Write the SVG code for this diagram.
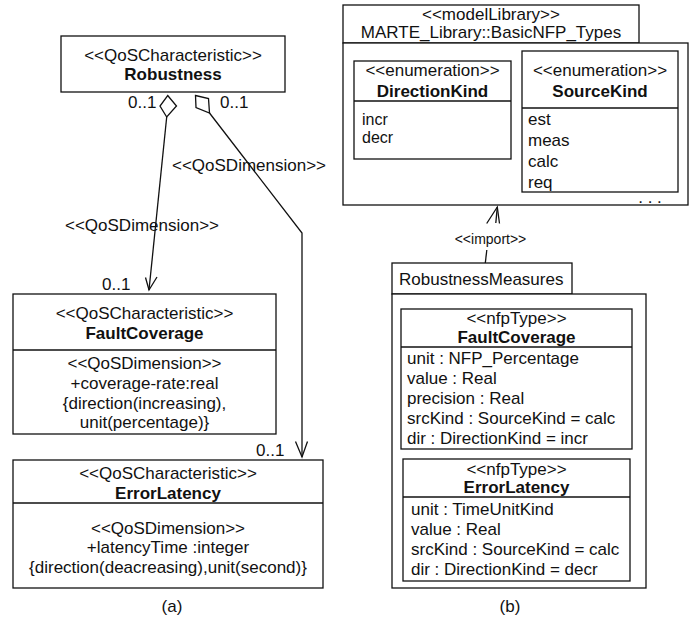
<svg xmlns="http://www.w3.org/2000/svg" width="697" height="623" viewBox="0 0 697 623">
<style>
  text { font-family: "Liberation Sans", Arial, Helvetica, sans-serif; font-size: 17px; fill: #111; }
  .c { text-anchor: middle; }
  .b { font-weight: bold; }
  .s { font-size: 14px; }
  .t { font-size: 16px; }
  .box { fill: #fff; stroke: #111; stroke-width: 1.3; }
  .ln { fill: none; stroke: #111; stroke-width: 1.3; }
  .dia { fill: #fff; stroke: #111; stroke-width: 1.3; stroke-linejoin: miter; }
</style>
<rect width="697" height="623" fill="#fff"/>

<g id="connectors">
  <!-- Robustness -> FaultCoverage -->
  <polygon class="dia" points="167.7,95.5 176.5,106 166.7,117 160,106"/>
  <line class="ln" x1="166.7" y1="117" x2="149" y2="290"/>
  <polyline class="ln" points="145.5,277.5 149,290 157,277"/>
  <!-- Robustness -> ErrorLatency -->
  <polygon class="dia" points="195.5,95.5 208.5,98.5 209.5,113 196,107.5"/>
  <polyline class="ln" points="209.5,113 302,233 302,457"/>
  <polyline class="ln" points="295.5,441.5 302,457 307.5,441.5"/>
  <!-- import -->
  <line class="ln" x1="485.3" y1="263" x2="486.8" y2="250"/>
  <line class="ln" x1="495.8" y1="223" x2="497.3" y2="207"/>
  <polyline class="ln" points="486.7,223.5 497.3,207 499.5,223.5"/>
  <text class="s c" x="490.5" y="244">&lt;&lt;import&gt;&gt;</text>
  <!-- labels -->
  <text x="128" y="108">0..1</text>
  <text x="220" y="108">0..1</text>
  <text x="102" y="290">0..1</text>
  <text x="256" y="456">0..1</text>
  <text x="172" y="171">&lt;&lt;QoSDimension&gt;&gt;</text>
  <text x="65" y="231">&lt;&lt;QoSDimension&gt;&gt;</text>
</g>

<g id="robustness">
  <rect class="box" x="61" y="36" width="224" height="56"/>
  <text class="c" x="173" y="61">&lt;&lt;QoSCharacteristic&gt;&gt;</text>
  <text class="c b" x="173" y="80">Robustness</text>
</g>

<g id="faultCoverage">
  <rect class="box" x="13" y="294" width="263" height="140"/>
  <line class="ln" x1="13" y1="350" x2="276" y2="350"/>
  <text class="c" x="144.5" y="319">&lt;&lt;QoSCharacteristic&gt;&gt;</text>
  <text class="c b" x="144.5" y="339">FaultCoverage</text>
  <text class="c" x="144.5" y="369">&lt;&lt;QoSDimension&gt;&gt;</text>
  <text class="c" x="144.5" y="389">+coverage-rate:real</text>
  <text class="c" x="144.5" y="409">{direction(increasing),</text>
  <text class="c" x="144.5" y="428">unit(percentage)}</text>
</g>

<g id="errorLatency">
  <rect class="box" x="13" y="460" width="310" height="128"/>
  <line class="ln" x1="13" y1="503" x2="323" y2="503"/>
  <text class="c" x="168" y="479">&lt;&lt;QoSCharacteristic&gt;&gt;</text>
  <text class="c b" x="168" y="499">ErrorLatency</text>
  <text class="c" x="168" y="534">&lt;&lt;QoSDimension&gt;&gt;</text>
  <text class="c" x="168" y="553">+latencyTime :integer</text>
  <text class="c" x="168" y="573">{direction(deacreasing),unit(second)}</text>
</g>

<text class="c" x="172" y="612">(a)</text>

<g id="basicNFPTypes">
  <rect class="box" x="343" y="5" width="296" height="38"/>
  <rect class="box" x="343" y="43" width="345" height="162"/>
  <text class="c" x="491" y="19.5">&lt;&lt;modelLibrary&gt;&gt;</text>
  <text class="c" x="491" y="38">MARTE_Library::BasicNFP_Types</text>
  <text class="c" x="650" y="203">. . .</text>
</g>

<g id="directionKind">
  <rect class="box" x="354" y="61" width="157" height="98"/>
  <line class="ln" x1="354" y1="101" x2="511" y2="101"/>
  <text class="c" x="432.5" y="76">&lt;&lt;enumeration&gt;&gt;</text>
  <text class="c b" x="432.5" y="96.5">DirectionKind</text>
  <text class="t" x="362" y="125">incr</text>
  <text class="t" x="362" y="143">decr</text>
</g>

<g id="sourceKind">
  <rect class="box" x="522" y="51" width="156" height="141"/>
  <line class="ln" x1="522" y1="108" x2="678" y2="108"/>
  <text class="c" x="600" y="76">&lt;&lt;enumeration&gt;&gt;</text>
  <text class="c b" x="600" y="96.5">SourceKind</text>
  <text x="528" y="124.5">est</text>
  <text x="528" y="145.5">meas</text>
  <text x="528" y="166.5">calc</text>
  <text x="528" y="187.5">req</text>
</g>

<g id="robustnessMeasures">
  <rect class="box" x="392" y="263" width="180" height="31"/>
  <rect class="box" x="392" y="294" width="254" height="294"/>
  <text x="399" y="285">RobustnessMeasures</text>
</g>

<g id="nfpFaultCoverage">
  <rect class="box" x="401" y="309" width="231" height="140"/>
  <line class="ln" x1="401" y1="347" x2="632" y2="347"/>
  <text class="c" x="516.5" y="324">&lt;&lt;nfpType&gt;&gt;</text>
  <text class="c b" x="516.5" y="343">FaultCoverage</text>
  <text x="407" y="364">unit : NFP_Percentage</text>
  <text x="407" y="384">value : Real</text>
  <text x="407" y="404">precision : Real</text>
  <text x="407" y="424">srcKind : SourceKind = calc</text>
  <text x="407" y="444">dir : DirectionKind = incr</text>
</g>

<g id="nfpErrorLatency">
  <rect class="box" x="403" y="459" width="227" height="122"/>
  <line class="ln" x1="403" y1="497" x2="630" y2="497"/>
  <text class="c" x="516.5" y="475">&lt;&lt;nfpType&gt;&gt;</text>
  <text class="c b" x="516.5" y="493">ErrorLatency</text>
  <text x="411" y="515">unit : TimeUnitKind</text>
  <text x="411" y="535">value : Real</text>
  <text x="411" y="555">srcKind : SourceKind = calc</text>
  <text x="411" y="575">dir : DirectionKind = decr</text>
</g>

<text class="c" x="510" y="612">(b)</text>
</svg>
